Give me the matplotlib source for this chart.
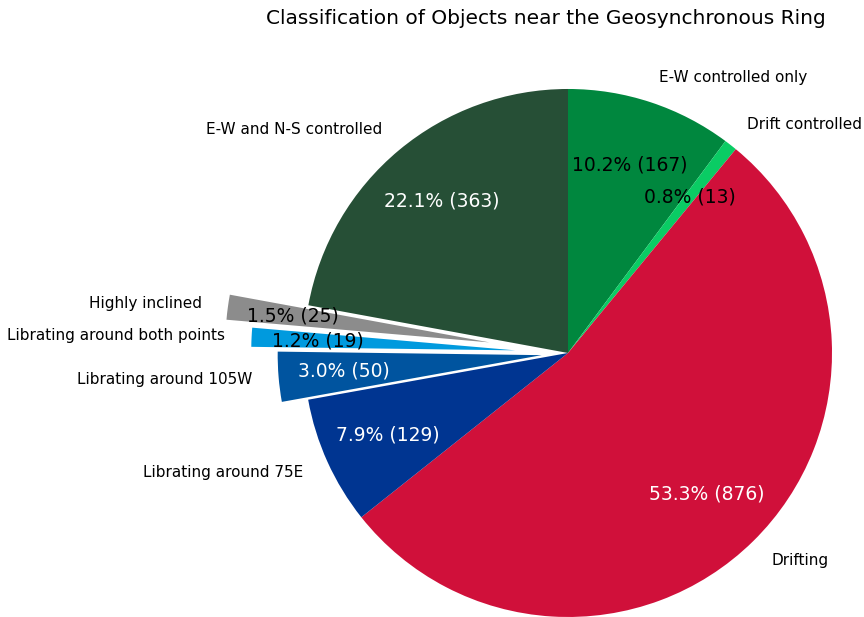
import matplotlib.pyplot as plt

labels = ['E-W controlled only', 'Drift controlled', 'Drifting', 'Librating around 75E',
          'Librating around 105W', 'Librating around both points', 'Highly inclined',
          'E-W and N-S controlled']
counts = [167, 13, 876, 129, 50, 19, 25, 363]
explode = [0, 0, 0, 0, 0.1, 0.2, 0.3, 0]
colors = ['#00873e', '#0acc64', '#d0103a', '#003591', '#00549f', '#009ade', '#8c8c8c', '#264f36']
pct_colors = ['black', 'black', 'white', 'white', 'white', 'black', 'black', 'white']

total = sum(counts)


def fmt(pct):
    n = int(round(pct * total / 100.0))
    return f'{pct:.1f}% ({n})'


fig = plt.figure(figsize=(8.64, 6.17), dpi=100)
ax = fig.add_axes([0, 0, 1, 1])

wedges, texts, autotexts = ax.pie(counts, labels=labels, colors=colors, explode=explode,
                                  startangle=90, counterclock=False, autopct=fmt,
                                  pctdistance=0.75, labeldistance=1.1,
                                  textprops={'fontsize': 11})
for t, c in zip(autotexts, pct_colors):
    t.set_color(c)
    t.set_fontsize(13.5)

ax.set_xlim(-2.1515, 1.1212)
ax.set_ylim(-1.0, 1.337)
ax.set_aspect('equal')
ax.axis('off')

fig.text(546 / 864, 1 - 19 / 617, 'Classification of Objects near the Geosynchronous Ring',
         ha='center', va='center', fontsize=14.5)

fig.savefig('out.png', dpi=100)
